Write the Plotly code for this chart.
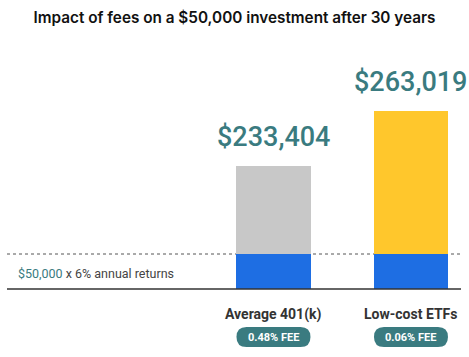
import plotly.graph_objects as go

categories = ["Average 401(k)", "Low-cost ETFs"]
final_values = [233404, 263019]
fee_labels = ["0.48% FEE", "0.06% FEE"]
principal_label = "$50,000"
return_label = " x 6% annual returns"
# illustrative bar heights (chart units)
principal_height = [35, 35]
growth_height = [88, 143]
growth_colors = ["#c8c8c8", "#ffc72c"]

TEAL = "#3a7b80"
FONT = "Roboto"

W, H = 469, 357
ml, mr, mt, mb = 7, 8, 40, 0
px_per_cat = 137.5
x0 = -1.938
x1 = x0 + (W - ml - mr) / px_per_cat
y_top = 249
y_bot = -68

fig = go.Figure()
fig.add_trace(go.Bar(x=[0, 1], y=principal_height, marker=dict(color="#1e6ee3", line=dict(width=0)),
                     width=0.545, hoverinfo="skip"))
fig.add_trace(go.Bar(x=[0, 1], y=growth_height, marker=dict(color=growth_colors, line=dict(width=0)),
                     width=0.545, hoverinfo="skip"))

shapes = []
shapes.append(dict(type="line", xref="x", yref="y", x0=x0, x1=x1, y0=principal_height[0], y1=principal_height[0],
                   line=dict(color="#555555", width=1, dash="dot"), layer="below"))
shapes.append(dict(type="line", xref="x", yref="y", x0=x0, x1=x1, y0=0, y1=0,
                   line=dict(color="#333333", width=1.5), layer="above"))

annotations = []
for i, (cat, val, fee) in enumerate(zip(categories, final_values, fee_labels)):
    total = principal_height[i] + growth_height[i]
    annotations.append(dict(x=i, y=total, xref="x", yref="y", text=f"${val:,}", showarrow=False,
                            yanchor="bottom", yshift=11,
                            font=dict(family=FONT, size=27, color=TEAL, weight=500)))
    annotations.append(dict(x=i, y=-25, xref="x", yref="y", text=cat, showarrow=False,
                            yanchor="middle", font=dict(family=FONT, size=14, color="#333333", weight=700)))
    hw = 37 / px_per_cat
    rx = 10 / px_per_cat
    ya, yb = -58, -38
    ym = (ya + yb) / 2
    xa, xb = i - hw, i + hw
    path = (f"M {xa+rx},{yb} L {xb-rx},{yb} Q {xb},{yb} {xb},{ym} Q {xb},{ya} {xb-rx},{ya} "
            f"L {xa+rx},{ya} Q {xa},{ya} {xa},{ym} Q {xa},{yb} {xa+rx},{yb} Z")
    shapes.append(dict(type="path", xref="x", yref="y", path=path, fillcolor=TEAL, line=dict(width=0)))
    annotations.append(dict(x=i, y=ym, xref="x", yref="y", text=fee, showarrow=False,
                            font=dict(family=FONT, size=11, color="white", weight=700)))

annotations.append(dict(x=x0 + 9 / px_per_cat, y=16, xref="x", yref="y", xanchor="left", yanchor="middle",
                        text=f"<span style='color:{TEAL}'>{principal_label}</span>{return_label}",
                        showarrow=False, font=dict(family=FONT, size=12.5, color="#444444")))

fig.update_layout(
    width=W, height=H,
    margin=dict(l=ml, r=mr, t=mt, b=mb),
    barmode="stack",
    showlegend=False,
    plot_bgcolor="white", paper_bgcolor="white",
    title=dict(text="Impact of fees on a $50,000 investment after 30 years", x=0.5, xanchor="center",
               y=1 - 18 / H, yanchor="middle", yref="container",
               font=dict(family="Inter", size=15.3, color="#111111", weight=600)),
    xaxis=dict(range=[x0, x1], visible=False, fixedrange=True),
    yaxis=dict(range=[y_bot, y_top], visible=False, fixedrange=True),
    shapes=shapes,
    annotations=annotations,
)

fig.write_html("out.html", config={"displayModeBar": False},
               post_script="document.body.style.margin='0';document.body.style.overflow='hidden';")
